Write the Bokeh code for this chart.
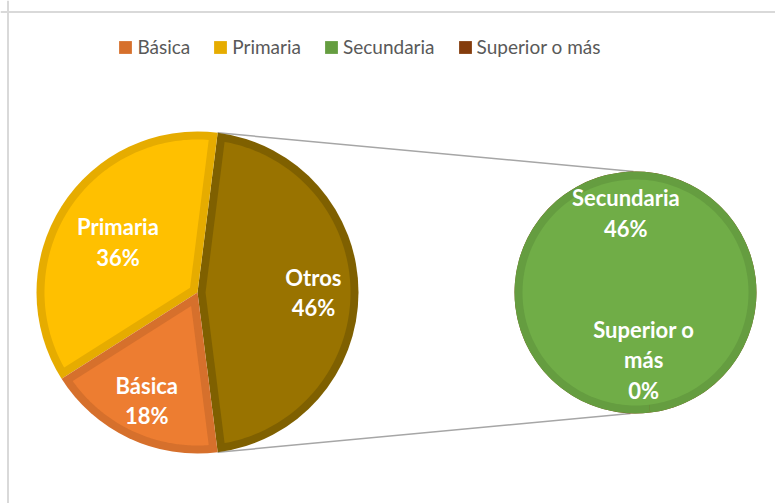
import numpy as np
from bokeh.plotting import figure
from bokeh.models import Range1d, Legend, LegendItem, Span
from bokeh.core.properties import value
from bokeh.embed import file_html
from bokeh.resources import INLINE

# ---------------- data ----------------
categories = ["Básica", "Primaria", "Secundaria", "Superior o más"]
percent = [18, 36, 46, 0]
main_names = ["Otros", "Primaria", "Básica"]          # main pie, counter-clockwise from the right
main_values = [percent[2] + percent[3], percent[1], percent[0]]
main_text = ["Otros", "Primaria", "Básica"]
sec_names = ["Superior o más", "Secundaria"]
sec_values = [percent[3], percent[2]]
sec_text = ["Superior o\nmás", "Secundaria"]

# ---------------- styles ----------------
fill = {"Básica": "#ED7D31", "Primaria": "#FFC000", "Otros": "#997300",
        "Secundaria": "#70AD47", "Superior o más": "#C55A11"}
border = {"Básica": "#D6702C", "Primaria": "#E6AC00", "Otros": "#7F6000",
          "Secundaria": "#659D40", "Superior o más": "#843C0C"}
legend_colors = ["#D6702C", "#E6AC00", "#659D40", "#843C0C"]

W, H = 775, 503
CX1, CY, R1 = 197, 211, 161
CX2, R2 = 635, 121
BW = 8                      # border width of slices
SEC_START = np.deg2rad(-83)
main_label_r = {"Otros": 0.72, "Primaria": 0.585, "Básica": 0.74}
sec_label_r = {"Secundaria": 0.66, "Superior o más": 0.56}
FONT = "Lato"

p = figure(width=W, height=H, x_range=Range1d(0, W), y_range=Range1d(0, H),
           output_backend="svg", toolbar_location=None, min_border=0)
p.axis.visible = False
p.grid.visible = False
p.outline_line_color = None
p.background_fill_color = "white"


def inner_poly(cx, cy, R, a1, a2, d):
    span = a2 - a1
    if span <= 1e-9:
        return None
    if span > 2 * np.pi - 1e-2:
        t = np.linspace(a1, a2, 240)
        return list(cx + (R - d) * np.cos(t)), list(cy + (R - d) * np.sin(t))
    half = span / 2
    mid = a1 + half
    v = d / np.sin(half)
    t0 = np.sqrt((R - d) ** 2 - d ** 2)
    dl = np.arctan2(d, t0)
    t = np.linspace(a1 + dl, a2 - dl, 120)
    xs = [cx + v * np.cos(mid)] + list(cx + (R - d) * np.cos(t))
    ys = [cy + v * np.sin(mid)] + list(cy + (R - d) * np.sin(t))
    return xs, ys


# main pie angles
tot = sum(main_values)
half_otros = main_values[0] / tot * np.pi
starts, ends = [], []
a = -half_otros
for v in main_values:
    starts.append(a)
    a += v / tot * 2 * np.pi
    ends.append(a)

# secondary pie angles
stot = sum(sec_values)
s_starts, s_ends = [], []
a = SEC_START
for v in sec_values:
    s_starts.append(a)
    a += min(v / stot * 2 * np.pi, 2 * np.pi - 1e-3)
    s_ends.append(a)

# connector lines
p.segment(x0=[CX1 + R1 * np.cos(half_otros), CX1 + R1 * np.cos(-half_otros)],
          y0=[CY + R1 * np.sin(half_otros), CY + R1 * np.sin(-half_otros)],
          x1=[CX2 - 2, CX2 - 5], y1=[CY + R2, CY - R2],
          line_color="#A6A6A6", line_width=1.5)

# outer (border-coloured) wedges
p.wedge(x=[CX1] * 3, y=[CY] * 3, radius=R1, start_angle=starts, end_angle=ends,
        fill_color=[border[n] for n in main_names], line_color=None)
p.wedge(x=[CX2] * 2, y=[CY] * 2, radius=R2, start_angle=s_starts, end_angle=s_ends,
        fill_color=[border[n] for n in sec_names], line_color=None)

# inner fills
xs, ys, cols = [], [], []
for n, s, e in zip(main_names, starts, ends):
    poly = inner_poly(CX1, CY, R1, s, e, BW)
    if poly:
        xs.append(poly[0]); ys.append(poly[1]); cols.append(fill[n])
for n, s, e in zip(sec_names, s_starts, s_ends):
    poly = inner_poly(CX2, CY, R2, s, e, BW)
    if poly:
        xs.append(poly[0]); ys.append(poly[1]); cols.append(fill[n])
p.patches(xs=xs, ys=ys, fill_color=cols, line_color=None)

# labels
lx, ly, lt = [], [], []
for n, t, v, s, e in zip(main_names, main_text, main_values, starts, ends):
    m = (s + e) / 2
    lx.append(CX1 + main_label_r[n] * R1 * np.cos(m))
    ly.append(CY + main_label_r[n] * R1 * np.sin(m))
    lt.append(f"{t}\n{v}%")
for n, t, v, s, e in zip(sec_names, sec_text, sec_values, s_starts, s_ends):
    m = (s + e) / 2
    lx.append(CX2 + sec_label_r[n] * R2 * np.cos(m))
    ly.append(CY + sec_label_r[n] * R2 * np.sin(m))
    lt.append(f"{t}\n{v}%")
p.text(x=lx, y=ly, text=lt, text_color="white", text_font=value(FONT),
       text_font_style="bold", text_font_size="22px", text_align="center",
       text_baseline="middle", text_line_height=1.13)

# chart-area border (top and left visible)
p.add_layout(Span(location=491.5, dimension="width", line_color="#D9D9D9", line_width=2))
p.add_layout(Span(location=7.5, dimension="height", line_color="#D9D9D9", line_width=2))

# legend
items = []
for cat, col in zip(categories, legend_colors):
    r = p.quad(left=[np.nan], right=[np.nan], top=[np.nan], bottom=[np.nan],
               fill_color=col, line_color=None)
    items.append(LegendItem(label=cat, renderers=[r]))
legend = Legend(items=items, orientation="horizontal", location=(117.4, 445),
                glyph_width=16, glyph_height=16, label_standoff=4, spacing=22,
                padding=0, margin=0, border_line_color=None, background_fill_alpha=0,
                label_text_font=FONT, label_text_font_size="19px",
                label_text_color="#595959")
p.add_layout(legend)

open("out.html", "w").write(file_html(p, INLINE))
